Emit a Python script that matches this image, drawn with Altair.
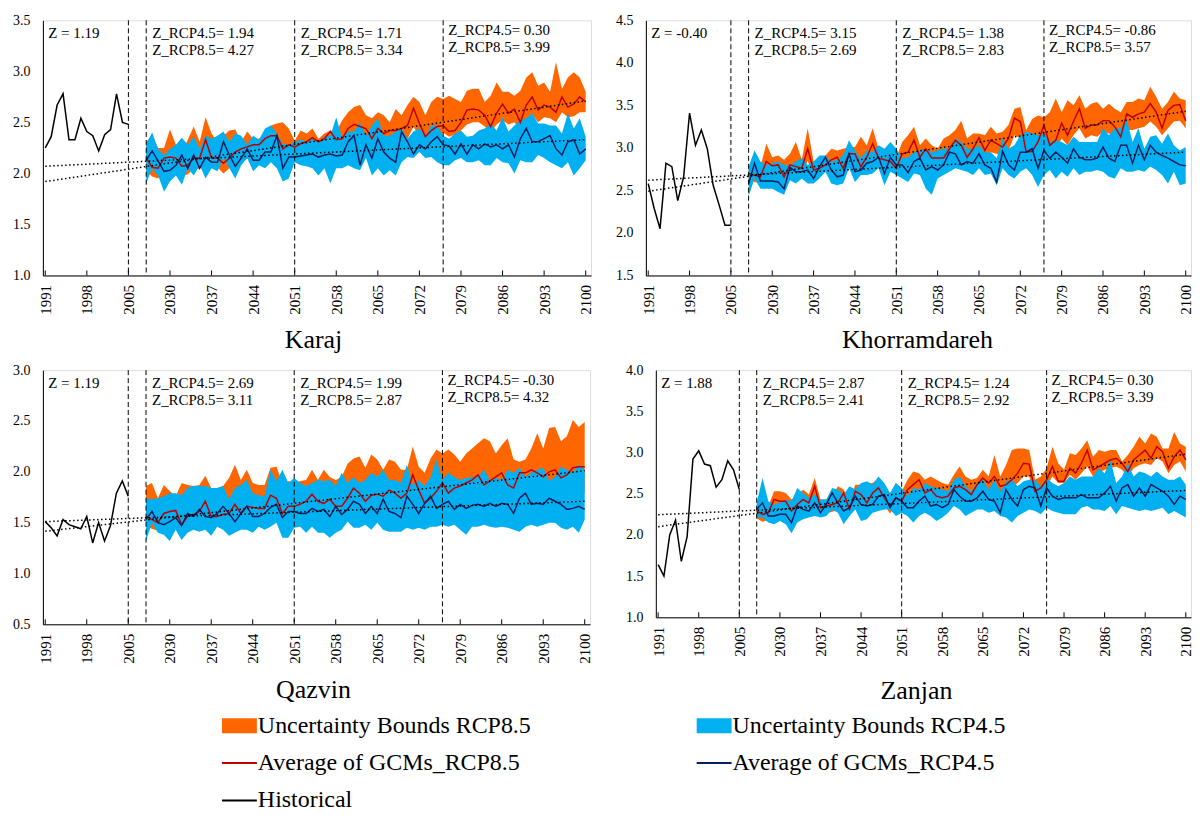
import altair as alt
import pandas as pd

FONT = "Liberation Serif"

HIST_YEARS = list(range(1991, 2006))
FUTURE_YEARS = list(range(2026, 2101))
TICK_YEARS = [1991, 1998, 2005, 2030, 2037, 2044, 2051, 2058, 2065, 2072, 2079, 2086, 2093, 2100]
PERIOD_YEARS = [2005, 2026, 2051, 2076]

STATIONS = ["Karaj", "Khorramdareh", "Qazvin", "Zanjan"]
Y_DOMAINS = [[1.0, 3.5], [1.5, 4.5], [0.5, 3.0], [1.0, 4.0]]

Z_HIST = [1.19, -0.40, 1.19, 1.88]
Z_RCP45 = [[1.94, 1.71, 0.30], [3.15, 1.38, -0.86], [2.69, 1.99, -0.30], [2.87, 1.24, 0.30]]
Z_RCP85 = [[4.27, 3.34, 3.99], [2.69, 2.83, 3.57], [3.11, 2.87, 4.32], [2.41, 2.92, 3.39]]

TREND45 = [[2.07, 2.33], [2.62, 2.95], [1.51, 1.71], [2.245, 2.54]]
TREND85 = [[1.92, 2.71], [2.49, 3.43], [1.415, 2.01], [2.10, 2.98]]

# ---------------- Karaj ----------------
KARAJ_HIST = [2.25, 2.36, 2.67, 2.78, 2.33, 2.33, 2.54, 2.41, 2.37, 2.22, 2.38, 2.43, 2.78, 2.50, 2.48]
KARAJ_AVG85 = [2.15, 2.06, 2.05, 2.15, 2.16, 2.15, 2.07, 2.08, 2.15, 2.15, 2.33, 2.15, 2.15, 2.10, 2.15,
               2.21, 2.24, 2.26, 2.28, 2.28, 2.34, 2.37, 2.37, 2.24, 2.28, 2.26, 2.29, 2.31, 2.35,
               2.31, 2.34, 2.41, 2.33, 2.34, 2.44, 2.48, 2.46, 2.44, 2.34, 2.44, 2.39, 2.42, 2.42, 2.44,
               2.47, 2.64, 2.49, 2.36, 2.42, 2.46, 2.47, 2.41, 2.42, 2.50, 2.62, 2.63, 2.62, 2.57, 2.46,
               2.59, 2.68, 2.59, 2.63, 2.50, 2.67, 2.75, 2.62, 2.67, 2.65, 2.60, 2.75, 2.65, 2.68, 2.75, 2.70]
KARAJ_AVG45 = [2.13, 2.22, 2.12, 2.02, 2.03, 2.08, 2.18, 2.05, 2.18, 2.05, 2.16, 2.11, 2.11, 2.31, 2.18,
               2.07, 2.15, 2.24, 2.13, 2.13, 2.21, 2.21, 2.37, 2.05, 2.16, 2.16, 2.17, 2.18, 2.19,
               2.16, 2.18, 2.19, 2.17, 2.18, 2.31, 2.37, 2.08, 2.28, 2.15, 2.34, 2.21, 2.15, 2.11, 2.41,
               2.31, 2.19, 2.28, 2.24, 2.31, 2.36, 2.28, 2.27, 2.19, 2.29, 2.19, 2.28, 2.24, 2.29, 2.26,
               2.28, 2.24, 2.28, 2.16, 2.34, 2.44, 2.31, 2.31, 2.34, 2.37, 2.24, 2.18, 2.31, 2.33, 2.19, 2.24]
KARAJ_LO45 = [1.90, 2.05, 1.98, 1.82, 1.92, 1.98, 1.89, 2.05, 1.98, 2.08, 1.95, 2.05, 2.02, 2.15, 2.05,
              1.95, 2.08, 2.15, 2.02, 2.08, 2.05, 2.11, 2.05, 1.92, 1.95, 2.11, 2.08, 2.07, 2.05,
              1.98, 2.05, 1.90, 2.05, 2.05, 2.08, 2.05, 2.03, 2.15, 1.98, 2.05, 1.98, 2.03, 1.98, 2.11,
              2.16, 2.15, 2.21, 2.15, 2.16, 2.11, 2.08, 2.08, 2.13, 2.15, 2.11, 2.11, 2.13, 2.08, 2.08,
              2.15, 2.11, 2.10, 2.00, 2.13, 2.11, 2.11, 2.18, 2.15, 2.11, 2.08, 2.05, 2.11, 1.98, 2.05, 2.13]
KARAJ_HI45 = [2.29, 2.40, 2.24, 2.18, 2.24, 2.28, 2.35, 2.28, 2.36, 2.24, 2.37, 2.34, 2.37, 2.41, 2.31,
              2.39, 2.37, 2.28, 2.37, 2.33, 2.44, 2.47, 2.39, 2.29, 2.28, 2.31, 2.33, 2.31, 2.34,
              2.31, 2.36, 2.37, 2.55, 2.34, 2.41, 2.41, 2.50, 2.37, 2.47, 2.54, 2.37, 2.37, 2.41, 2.44,
              2.34, 2.41, 2.44, 2.37, 2.47, 2.47, 2.37, 2.34, 2.39, 2.42, 2.36, 2.37, 2.42, 2.44, 2.49,
              2.42, 2.55, 2.41, 2.47, 2.52, 2.54, 2.59, 2.49, 2.49, 2.47, 2.47, 2.39, 2.59, 2.44, 2.54, 2.36]
KARAJ_HI85 = [2.31, 2.37, 2.25, 2.25, 2.43, 2.28, 2.21, 2.33, 2.46, 2.31, 2.55, 2.39, 2.31, 2.37, 2.42,
              2.43, 2.31, 2.41, 2.34, 2.34, 2.39, 2.47, 2.49, 2.50, 2.44, 2.32, 2.42, 2.39, 2.44,
              2.34, 2.39, 2.42, 2.41, 2.52, 2.60, 2.65, 2.67, 2.57, 2.54, 2.60, 2.57, 2.50, 2.63, 2.57,
              2.67, 2.75, 2.70, 2.57, 2.70, 2.75, 2.73, 2.76, 2.73, 2.70, 2.81, 2.83, 2.83, 2.70, 2.76,
              2.89, 2.80, 2.80, 2.76, 2.81, 2.94, 2.99, 2.86, 2.89, 2.80, 3.09, 2.83, 2.94, 2.99, 2.94, 2.80]
KARAJ_LO85 = [2.02, 1.97, 1.95, 2.03, 2.05, 2.04, 1.98, 1.99, 2.05, 2.04, 2.18, 2.05, 2.06, 2.00, 2.05,
              2.10, 2.12, 2.14, 2.16, 2.17, 2.22, 2.25, 2.24, 2.12, 2.16, 2.15, 2.17, 2.20, 2.22, 2.20,
              2.22, 2.28, 2.22, 2.23, 2.30, 2.34, 2.33, 2.31, 2.23, 2.31, 2.28, 2.30, 2.30, 2.32, 2.34,
              2.46, 2.36, 2.25, 2.30, 2.34,
              2.40, 2.36, 2.38, 2.42, 2.48, 2.50, 2.50, 2.46, 2.40, 2.48, 2.52, 2.48, 2.50, 2.42, 2.52,
              2.58, 2.50, 2.55, 2.54, 2.50, 2.60, 2.55, 2.56, 2.60, 2.60]

# ---------------- Khorramdareh ----------------
KHOR_HIST = [2.58, 2.29, 2.05, 2.82, 2.78, 2.38, 2.66, 3.41, 3.03, 3.21, 2.99, 2.56, 2.33, 2.09, 2.09]
KHOR_AVG85 = [2.70, 2.68, 2.66, 2.84, 2.79, 2.80, 2.66, 2.80, 2.78, 2.76, 2.99, 2.74, 2.76, 2.80, 2.86,
              2.89, 2.76, 2.93, 2.93, 2.78, 2.89, 3.05, 2.88, 2.86, 2.84,
              2.76, 2.93, 2.95, 3.09, 2.89, 2.99, 2.88, 2.88, 2.88, 2.99, 3.09, 3.03, 2.89, 2.99, 3.12,
              2.97, 3.09, 3.05, 3.01, 3.11, 3.35, 3.31, 2.95, 2.96, 3.07, 3.27, 3.03, 3.09, 3.29, 3.15,
              3.31, 3.46, 3.23, 3.27, 3.27, 3.32, 3.32, 3.25, 3.13, 3.40, 3.36, 3.40, 3.42, 3.52, 3.42,
              3.23, 3.44, 3.50, 3.51, 3.32]
KHOR_AVG45 = [2.58, 2.82, 2.61, 2.61, 2.61, 2.60, 2.52, 2.77, 2.72, 2.72, 2.74, 2.64, 2.78, 2.89, 2.74,
              2.66, 2.68, 2.93, 2.72, 2.74, 2.82, 2.84, 2.89, 2.70, 2.89,
              2.80, 2.80, 2.71, 2.84, 2.88, 2.74, 2.78, 2.74, 2.80, 2.95, 2.93, 2.80, 2.84, 2.82, 2.93,
              2.80, 2.76, 2.60, 2.96, 2.80, 2.74, 2.95, 2.95, 2.99, 2.76, 2.97, 2.88, 2.95, 2.89, 2.82,
              2.99, 2.89, 2.86, 2.86, 2.88, 3.01, 2.88, 2.84, 3.03, 3.03, 2.82, 3.03, 2.86, 3.03, 2.95,
              2.91, 2.88, 2.84, 2.80, 2.79]
KHOR_HI45 = [2.78, 2.97, 2.84, 2.80, 2.82, 2.84, 2.80, 2.80, 2.84, 2.88, 2.80, 2.84, 2.91, 2.91, 2.84,
             2.86, 2.91, 3.09, 2.97, 2.88, 2.97, 2.95, 3.03, 2.99, 3.07,
             2.99, 2.88, 2.89, 2.95, 2.97, 2.99, 2.95, 2.97, 2.99, 2.99, 3.11, 3.07, 2.99, 2.99, 3.03,
             2.95, 2.95, 2.88, 3.11, 2.99, 3.03, 3.15, 3.19, 3.17, 3.15, 3.17, 3.07, 3.09, 3.07, 3.03,
             3.13, 3.07, 3.07, 3.07, 3.07, 3.23, 3.15, 3.23, 3.23, 3.34, 3.07, 3.23, 2.99, 3.13, 3.15,
             3.05, 3.17, 3.03, 2.97, 3.01]
KHOR_LO45 = [2.43, 2.64, 2.52, 2.52, 2.52, 2.48, 2.45, 2.62, 2.58, 2.64, 2.58, 2.58, 2.64, 2.72, 2.58,
             2.56, 2.58, 2.76, 2.60, 2.68, 2.68, 2.70, 2.76, 2.56, 2.72,
             2.68, 2.64, 2.60, 2.70, 2.68, 2.52, 2.45, 2.64, 2.68, 2.72, 2.76, 2.74, 2.72, 2.68, 2.76,
             2.68, 2.70, 2.56, 2.76, 2.68, 2.64, 2.72, 2.76, 2.68, 2.54, 2.68, 2.74, 2.64, 2.72, 2.66,
             2.76, 2.68, 2.72, 2.72, 2.74, 2.72, 2.66, 2.64, 2.76, 2.72, 2.72, 2.74, 2.72, 2.78, 2.74,
             2.68, 2.58, 2.72, 2.56, 2.58]
KHOR_HI85 = [2.78, 2.84, 2.78, 3.05, 2.89, 2.91, 2.86, 2.93, 3.07, 2.86, 3.23, 2.84, 2.88, 2.91, 2.99,
             2.97, 2.99, 3.01, 3.01, 3.13, 3.03, 3.23, 2.99, 2.95, 2.97,
             2.88, 3.07, 3.15, 3.25, 3.03, 3.11, 3.03, 2.99, 3.11, 3.15, 3.21, 3.32, 3.11, 3.17, 3.17,
             3.15, 3.25, 3.17, 3.19, 3.27, 3.46, 3.48, 3.21, 3.34, 3.38, 3.36, 3.42, 3.58, 3.42, 3.56,
             3.50, 3.62, 3.46, 3.52, 3.54, 3.46, 3.52, 3.46, 3.42, 3.54, 3.54, 3.58, 3.56, 3.72, 3.60,
             3.46, 3.54, 3.66, 3.58, 3.56]
KHOR_LO85 = [2.62, 2.60, 2.58, 2.72, 2.70, 2.70, 2.58, 2.70, 2.68, 2.68, 2.85, 2.66, 2.68, 2.72, 2.76,
             2.78, 2.68, 2.82, 2.82, 2.70, 2.80, 2.92, 2.80, 2.78, 2.76,
             2.70, 2.80, 2.86, 2.93, 2.84, 2.89, 2.82, 2.80, 2.80, 2.86, 2.95, 2.91, 2.84, 2.88, 2.95,
             2.89, 2.95, 2.93, 2.91, 2.97, 3.15, 3.11, 2.88, 2.89, 2.95, 3.07, 2.95, 2.99, 3.11, 3.03,
             3.15, 3.23, 3.11, 3.15, 3.13, 3.19, 3.17, 3.15, 3.07, 3.21, 3.21, 3.23, 3.25, 3.31, 3.25,
             3.15, 3.23, 3.31, 3.32, 3.23]

# ---------------- Qazvin ----------------
QAZ_HIST = [1.51, 1.45, 1.37, 1.53, 1.48, 1.46, 1.44, 1.56, 1.30, 1.50, 1.32, 1.47, 1.79, 1.91, 1.76]
QAZ_AVG85 = [1.56, 1.53, 1.50, 1.59, 1.61, 1.62, 1.48, 1.56, 1.58, 1.61, 1.71, 1.56, 1.56, 1.58, 1.59,
             1.68, 1.59, 1.66, 1.65, 1.64, 1.64, 1.77, 1.74, 1.59, 1.66, 1.66, 1.68, 1.71, 1.78,
             1.71, 1.69, 1.73, 1.66, 1.66, 1.74, 1.84, 1.79, 1.71, 1.77, 1.78, 1.76, 1.82, 1.79, 1.74,
             1.79, 1.97, 1.82, 1.69, 1.74, 1.81, 1.89, 1.79, 1.84, 1.86, 1.89, 1.92, 1.97, 1.87, 1.91,
             1.95, 1.99, 1.87, 1.84, 1.99, 1.99, 2.02, 1.99, 1.95, 2.00, 2.02, 1.94, 1.97, 2.04, 2.05, 2.05]
QAZ_AVG45 = [1.53, 1.61, 1.50, 1.48, 1.51, 1.55, 1.47, 1.59, 1.56, 1.63, 1.56, 1.55, 1.59, 1.66, 1.59,
             1.51, 1.59, 1.66, 1.56, 1.56, 1.59, 1.65, 1.68, 1.55, 1.61, 1.61, 1.59, 1.59, 1.64,
             1.61, 1.63, 1.56, 1.66, 1.58, 1.63, 1.71, 1.68, 1.59, 1.66, 1.59, 1.73, 1.61, 1.59, 1.55,
             1.76, 1.68, 1.59, 1.69, 1.76, 1.64, 1.68, 1.71, 1.63, 1.68, 1.64, 1.67, 1.68, 1.66, 1.69,
             1.66, 1.69, 1.68, 1.59, 1.74, 1.79, 1.68, 1.69, 1.68, 1.74, 1.71, 1.68, 1.63, 1.64, 1.66, 1.63]
QAZ_HI45 = [1.74, 1.73, 1.74, 1.76, 1.79, 1.79, 1.77, 1.84, 1.86, 1.86, 1.86, 1.84, 1.84, 1.86, 1.73,
            1.84, 1.87, 1.92, 1.79, 1.77, 1.76, 2.02, 1.91, 2.02, 1.89, 1.94, 1.89, 1.86, 1.89,
            1.92, 1.91, 1.92, 1.86, 1.99, 1.89, 1.95, 1.89, 1.92, 1.99, 1.95, 2.02, 1.92, 1.92, 1.89,
            2.07, 1.87, 1.92, 1.86, 1.95, 2.12, 1.92, 1.99, 1.95, 1.92, 1.94, 1.95, 1.95, 2.02, 1.92,
            1.94, 1.92, 2.02, 1.99, 2.04, 1.95, 1.99, 2.02, 2.04, 1.91, 1.95, 2.05, 2.02, 1.99, 2.07, 2.02]
QAZ_LO45 = [1.32, 1.50, 1.40, 1.38, 1.32, 1.43, 1.33, 1.40, 1.43, 1.41, 1.43, 1.37, 1.46, 1.43, 1.37,
            1.40, 1.43, 1.43, 1.40, 1.46, 1.43, 1.46, 1.50, 1.35, 1.35, 1.45, 1.46, 1.40, 1.46,
            1.40, 1.40, 1.35, 1.40, 1.43, 1.51, 1.45, 1.45, 1.48, 1.43, 1.50, 1.43, 1.41, 1.41, 1.41,
            1.45, 1.43, 1.45, 1.43, 1.46, 1.46, 1.48, 1.46, 1.48, 1.43, 1.38, 1.46, 1.46, 1.48, 1.46,
            1.45, 1.46, 1.45, 1.43, 1.41, 1.46, 1.48, 1.46, 1.48, 1.50, 1.50, 1.45, 1.43, 1.46, 1.40, 1.53]
QAZ_HI85 = [1.86, 1.89, 1.74, 1.87, 1.81, 1.76, 1.89, 1.87, 1.86, 1.87, 1.96, 1.84, 1.84, 1.86, 1.94,
            2.07, 1.92, 2.02, 1.89, 1.87, 1.87, 2.04, 2.05, 1.89, 1.91, 1.89, 1.91, 1.92, 2.02,
            1.92, 2.02, 1.95, 1.92, 1.95, 2.08, 2.13, 2.15, 2.04, 2.17, 2.12, 2.02, 2.12, 2.10, 2.02,
            2.02, 2.25, 2.05, 1.99, 2.13, 2.22, 2.18, 2.22, 2.17, 2.10, 2.18, 2.23, 2.28, 2.33, 2.30,
            2.18, 2.26, 2.33, 2.12, 2.10, 2.12, 2.23, 2.38, 2.23, 2.43, 2.44, 2.30, 2.35, 2.51, 2.44, 2.49]
QAZ_LO85 = [1.46, 1.44, 1.42, 1.49, 1.51, 1.52, 1.40, 1.46, 1.48, 1.51, 1.60, 1.47, 1.47, 1.49, 1.50,
            1.58, 1.50, 1.56, 1.55, 1.54, 1.54, 1.66, 1.64, 1.50, 1.56, 1.56, 1.58, 1.60, 1.67, 1.61,
            1.59, 1.63, 1.56, 1.57, 1.64, 1.73, 1.69, 1.62, 1.67, 1.68, 1.66, 1.72, 1.69, 1.65, 1.69,
            1.85, 1.72, 1.60, 1.65, 1.71,
            1.81, 1.79, 1.82, 1.84, 1.87, 1.86, 1.87, 1.86, 1.84, 1.87, 1.86, 1.86, 1.84, 1.79, 1.81,
            1.86, 1.87, 1.89, 1.87, 1.84, 1.91, 1.82, 1.87, 1.86, 1.79]

# ---------------- Zanjan ----------------
ZAN_HIST = [1.64, 1.50, 2.00, 2.18, 1.68, 1.98, 2.92, 3.02, 2.86, 2.84, 2.58, 2.67, 2.90, 2.79, 2.55]
ZAN_AVG85 = [2.29, 2.25, 2.27, 2.43, 2.41, 2.41, 2.29, 2.37, 2.43, 2.39, 2.59, 2.33, 2.35, 2.37, 2.39,
             2.51, 2.31, 2.53, 2.49, 2.39, 2.51, 2.57, 2.45, 2.35, 2.45,
             2.41, 2.55, 2.61, 2.67, 2.51, 2.55, 2.47, 2.45, 2.47, 2.57, 2.59, 2.55, 2.49, 2.61, 2.69,
             2.63, 2.71, 2.59, 2.61, 2.67, 2.75, 2.87, 2.86, 2.53, 2.57, 2.67, 2.83, 2.65, 2.65, 2.81,
             2.75, 2.87, 3.03, 2.79, 2.83, 2.87, 2.91, 2.93, 2.87, 2.77, 2.91, 2.97, 3.03, 2.93, 3.07,
             3.01, 2.81, 2.95, 3.03, 2.91]
ZAN_AVG45 = [2.31, 2.39, 2.23, 2.23, 2.25, 2.25, 2.15, 2.35, 2.31, 2.29, 2.39, 2.27, 2.37, 2.51, 2.39,
             2.29, 2.33, 2.47, 2.37, 2.35, 2.37, 2.47, 2.49, 2.33, 2.45,
             2.41, 2.33, 2.33, 2.41, 2.47, 2.35, 2.37, 2.33, 2.37, 2.55, 2.47, 2.41, 2.41, 2.45, 2.53,
             2.43, 2.41, 2.27, 2.55, 2.43, 2.35, 2.55, 2.59, 2.57, 2.35, 2.57, 2.47, 2.43, 2.45, 2.45,
             2.45, 2.49, 2.45, 2.45, 2.45, 2.51, 2.59, 2.41, 2.57, 2.61, 2.47, 2.57, 2.47, 2.61, 2.57,
             2.53, 2.47, 2.37, 2.47, 2.43]
ZAN_HI45 = [2.39, 2.69, 2.41, 2.37, 2.39, 2.43, 2.41, 2.57, 2.51, 2.45, 2.49, 2.43, 2.43, 2.57, 2.55,
            2.49, 2.59, 2.55, 2.63, 2.65, 2.61, 2.71, 2.63, 2.51, 2.63,
            2.57, 2.47, 2.57, 2.55, 2.63, 2.59, 2.57, 2.55, 2.53, 2.67, 2.71, 2.59, 2.53, 2.63, 2.67,
            2.55, 2.67, 2.53, 2.65, 2.67, 2.59, 2.65, 2.67, 2.67, 2.59, 2.69, 2.63, 2.59, 2.63, 2.71,
            2.67, 2.71, 2.71, 2.71, 2.81, 2.75, 2.91, 2.63, 2.71, 2.87, 2.71, 2.77, 2.75, 2.71, 2.77,
            2.71, 2.67, 2.67, 2.71, 2.61]
ZAN_LO45 = [2.21, 2.21, 2.15, 2.13, 2.17, 2.13, 2.02, 2.15, 2.19, 2.21, 2.23, 2.21, 2.23, 2.31, 2.27,
            2.13, 2.23, 2.31, 2.17, 2.19, 2.27, 2.29, 2.31, 2.31, 2.23,
            2.27, 2.23, 2.15, 2.23, 2.27, 2.23, 2.17, 2.21, 2.27, 2.35, 2.31, 2.23, 2.27, 2.31, 2.31,
            2.27, 2.29, 2.23, 2.21, 2.15, 2.23, 2.27, 2.31, 2.29, 2.25, 2.33, 2.29, 2.27, 2.25, 2.25,
            2.25, 2.33, 2.35, 2.31, 2.31, 2.29, 2.35, 2.25, 2.35, 2.33, 2.31, 2.29, 2.31, 2.29, 2.31,
            2.33, 2.25, 2.29, 2.25, 2.21]
ZAN_HI85 = [2.33, 2.35, 2.35, 2.53, 2.53, 2.51, 2.43, 2.47, 2.55, 2.49, 2.69, 2.43, 2.43, 2.47, 2.59,
            2.55, 2.41, 2.61, 2.61, 2.63, 2.63, 2.69, 2.61, 2.47, 2.63,
            2.53, 2.67, 2.77, 2.75, 2.67, 2.71, 2.67, 2.63, 2.61, 2.73, 2.83, 2.71, 2.67, 2.69, 2.79,
            2.71, 2.97, 2.71, 2.85, 3.03, 3.05, 3.05, 3.03, 2.67, 2.71, 2.81, 3.07, 2.87, 2.79, 2.99,
            2.97, 3.05, 3.15, 2.95, 3.03, 3.01, 3.03, 3.03, 2.89, 2.97, 3.07, 3.19, 3.11, 3.23, 3.19,
            3.05, 3.05, 3.25, 3.11, 3.07]
ZAN_LO85 = [2.20, 2.16, 2.18, 2.33, 2.31, 2.32, 2.20, 2.28, 2.33, 2.30, 2.48, 2.24, 2.26, 2.28, 2.30,
            2.41, 2.22, 2.43, 2.39, 2.30, 2.41, 2.47, 2.36, 2.26, 2.36,
            2.35, 2.43, 2.49, 2.55, 2.43, 2.43, 2.39, 2.39, 2.41, 2.47, 2.49, 2.45, 2.41, 2.51, 2.59,
            2.53, 2.61, 2.51, 2.53, 2.57, 2.63, 2.71, 2.71, 2.47, 2.49, 2.59, 2.71, 2.63, 2.63, 2.73,
            2.67, 2.75, 2.83, 2.71, 2.75, 2.79, 2.81, 2.83, 2.79, 2.71, 2.81, 2.85, 2.87, 2.85, 2.93,
            2.89, 2.75, 2.85, 2.89, 2.77]

LEGEND_LABELS = ["Uncertainty Bounds RCP8.5", "Uncertainty Bounds RCP4.5",
                 "Average of GCMs_RCP8.5", "Average of GCMs_RCP4.5", "Historical"]
LEGEND_COLORS = ["#FF6600", "#00B0F0", "#C00000", "#002060", "#000000"]

C85_BAND, C45_BAND, C85_LINE, C45_LINE, C_HIST = LEGEND_COLORS

SERIES = [
    (KARAJ_HIST, KARAJ_LO85, KARAJ_HI85, KARAJ_LO45, KARAJ_HI45, KARAJ_AVG85, KARAJ_AVG45),
    (KHOR_HIST, KHOR_LO85, KHOR_HI85, KHOR_LO45, KHOR_HI45, KHOR_AVG85, KHOR_AVG45),
    (QAZ_HIST, QAZ_LO85, QAZ_HI85, QAZ_LO45, QAZ_HI45, QAZ_AVG85, QAZ_AVG45),
    (ZAN_HIST, ZAN_LO85, ZAN_HI85, ZAN_LO45, ZAN_HI45, ZAN_AVG85, ZAN_AVG45),
]

# layout (plot-area sizes, title nudges)
SIZES = [(550, 256), (547, 256), (549, 255), (537, 248)]
TITLE_DX = [-4, -1.5, -3.5, -7.5]
TITLE_PAD = [12, 12, 13, 21]


def to_idx(year):
    return year - 1991 if year <= 2005 else year - 2009


TICK_IDX = [to_idx(y) for y in TICK_YEARS]
LABEL_EXPR = "datum.value <= 14 ? 1991 + datum.value : 2009 + datum.value"


def panel(k):
    hist, lo85, hi85, lo45, hi45, avg85, avg45 = SERIES[k]
    w, h = SIZES[k]
    ydom = Y_DOMAINS[k]
    n_ticks = int(round((ydom[1] - ydom[0]) / 0.5)) + 1
    yvals = [round(ydom[0] + 0.5 * i, 1) for i in range(n_ticks)]

    xscale = alt.Scale(domain=[-0.4, 91.9], nice=False, zero=False)
    yscale = alt.Scale(domain=ydom, nice=False, zero=False)
    xaxis = alt.Axis(values=TICK_IDX, labelExpr=LABEL_EXPR, labelAngle=270,
                     labelFont=FONT, labelFontSize=15, labelColor="black",
                     labelPadding=9, ticks=False, grid=False,
                     domainColor="black", labelFlush=False, labelOverlap=False,
                     title=STATIONS[k], titleFont=FONT, titleFontSize=26,
                     titleFontWeight="normal", titleColor="black",
                     titlePadding=TITLE_PAD[k], titleX=w / 2 + TITLE_DX[k],
                     titleAlign="center")
    yaxis = alt.Axis(values=yvals, format=".1f", labelFont=FONT, labelFontSize=14,
                     labelColor="black", labelPadding=13, ticks=False, grid=False,
                     title=None, domainColor="black")

    def X():
        return alt.X("idx:Q", scale=xscale, axis=xaxis)

    def Y(f):
        return alt.Y(f"{f}:Q", scale=yscale, axis=yaxis)

    fut = pd.DataFrame({"year": FUTURE_YEARS, "lo85": lo85, "hi85": hi85,
                        "lo45": lo45, "hi45": hi45, "avg85": avg85, "avg45": avg45})
    fut["idx"] = fut["year"].map(to_idx)
    hdf = pd.DataFrame({"year": HIST_YEARS, "v": hist})
    hdf["idx"] = hdf["year"].map(to_idx)
    tdf = pd.DataFrame({"year": [1991, 2100, 1991, 2100],
                        "v": TREND45[k] + TREND85[k],
                        "s": ["RCP4.5", "RCP4.5", "RCP8.5", "RCP8.5"]})
    tdf["idx"] = tdf["year"].map(to_idx)
    rdf = pd.DataFrame({"year": PERIOD_YEARS})
    rdf["idx"] = rdf["year"].map(to_idx)
    kdf = pd.DataFrame({"year": TICK_YEARS})
    kdf["idx"] = kdf["year"].map(to_idx)
    zdf = pd.DataFrame({"year": PERIOD_YEARS[1:],
                        "l1": [f"Z_RCP4.5= {v:.2f}" for v in Z_RCP45[k]],
                        "l2": [f"Z_RCP8.5= {v:.2f}" for v in Z_RCP85[k]]})
    zdf["idx"] = zdf["year"].map(to_idx)
    zh = pd.DataFrame({"year": [1991], "t": [f"Z = {Z_HIST[k]:.2f}"]})
    zh["idx"] = zh["year"].map(to_idx)

    base = alt.Chart(fut)
    band85 = base.mark_area(color=C85_BAND, opacity=1).encode(x=X(), y=Y("lo85"), y2="hi85:Q")
    band45 = base.mark_area(color=C45_BAND, opacity=1).encode(x=X(), y=Y("lo45"), y2="hi45:Q")
    line85 = base.mark_line(color=C85_LINE, strokeWidth=1.5).encode(x=X(), y=Y("avg85"))
    line45 = base.mark_line(color=C45_LINE, strokeWidth=1.5).encode(x=X(), y=Y("avg45"))
    hline = alt.Chart(hdf).mark_line(color=C_HIST, strokeWidth=1.5).encode(x=X(), y=Y("v"))
    trend = alt.Chart(tdf).mark_line(color="black", strokeWidth=1.5, strokeDash=[1.5, 2.5]).encode(
        x=X(), y=Y("v"), detail="s:N")
    rules = alt.Chart(rdf).mark_rule(color="black", strokeWidth=1, strokeDash=[5, 3]).encode(x=X())
    ticks = alt.Chart(kdf).mark_rule(color="black", strokeWidth=1).encode(
        x=X(), y=alt.value(h), y2=alt.value(h - 5))

    tstyle = dict(align="left", baseline="alphabetic", font=FONT, fontSize=15, color="black")
    ztxt = alt.Chart(zh).mark_text(dx=3, **tstyle).encode(x=X(), y=alt.value(18), text="t:N")
    zearly = alt.Chart(zdf).transform_filter("datum.year < 2070")
    zlate = alt.Chart(zdf).transform_filter("datum.year > 2070")
    e1 = zearly.mark_text(dx=6, **tstyle).encode(x=X(), y=alt.value(18), text="l1:N")
    e2 = zearly.mark_text(dx=6, **tstyle).encode(x=X(), y=alt.value(35), text="l2:N")
    l1 = zlate.mark_text(dx=5, **tstyle).encode(x=X(), y=alt.value(15), text="l1:N")
    l2 = zlate.mark_text(dx=5, **tstyle).encode(x=X(), y=alt.value(32), text="l2:N")

    return alt.layer(band85, band45, line85, line45, hline, trend, rules, ticks,
                     ztxt, e1, e2, l1, l2).properties(width=w, height=h)


# ---------------- legend ----------------
leg = pd.DataFrame({"label": LEGEND_LABELS, "color": LEGEND_COLORS,
                    "col": [i % 2 for i in range(len(LEGEND_LABELS))],
                    "row": [i // 2 for i in range(len(LEGEND_LABELS))],
                    "kind": ["band", "band", "line", "line", "line"]})
lx = alt.X("col:Q", scale=alt.Scale(domain=[-0.3773, 1.9322], nice=False, zero=False), axis=None)
ly = alt.Y("row:Q", scale=alt.Scale(domain=[-0.5, 2.3], nice=False, zero=False, reverse=True), axis=None)
lcolor = alt.Color("label:N", scale=alt.Scale(domain=LEGEND_LABELS, range=LEGEND_COLORS), legend=None)
lbase = alt.Chart(leg)
lband = lbase.transform_filter("datum.kind == 'band'").mark_tick(
    orient="horizontal", size=35, thickness=15, xOffset=17.5, opacity=1).encode(x=lx, y=ly, color=lcolor)
lline = lbase.transform_filter("datum.kind == 'line'").mark_tick(
    orient="horizontal", size=35, thickness=2, xOffset=17.5, opacity=1).encode(x=lx, y=ly, color=lcolor)
ltext = lbase.mark_text(align="left", baseline="middle", dx=36, font=FONT, fontSize=24,
                        color="black").encode(x=lx, y=ly, text="label:N")
legend = alt.layer(lband, lline, ltext).properties(
    width=1100, height=105, view=alt.ViewBackground(stroke="transparent"))

row1 = alt.hconcat(panel(0), panel(1), spacing=55, bounds="flush")
row2 = alt.hconcat(panel(2), panel(3), spacing=66, bounds="flush")
grid = alt.vconcat(row1, row2, spacing=9)
chart = alt.vconcat(grid, legend, spacing=2).properties(
    padding={"left": 4, "top": 3, "right": 0, "bottom": 0}
).configure_view(stroke="black", strokeWidth=1).configure(font=FONT)

chart.save("out.html", embed_options={"renderer": "svg", "actions": False})
